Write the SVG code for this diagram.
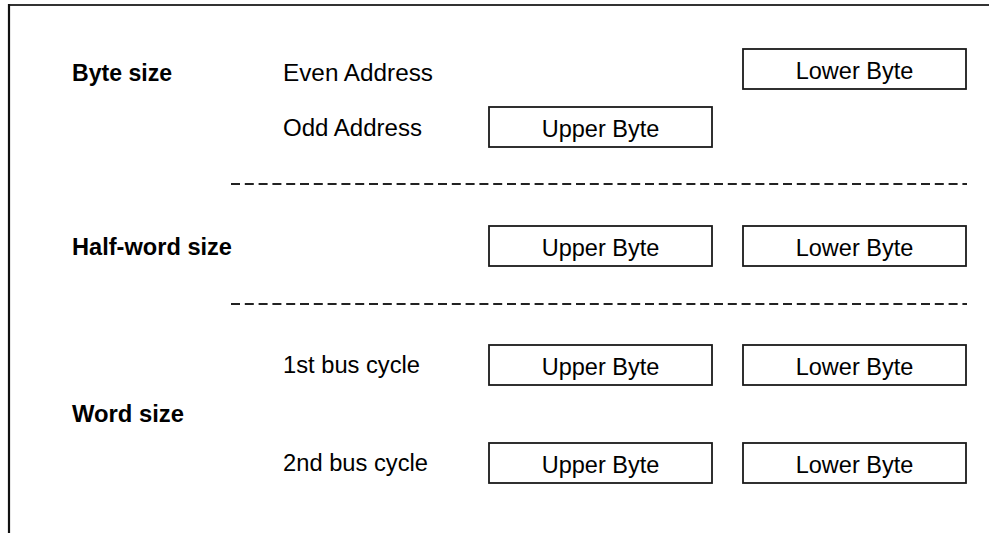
<svg xmlns="http://www.w3.org/2000/svg" width="989" height="533" viewBox="0 0 989 533">
<style>
.box{fill:#fff;stroke:#1a1a1a;stroke-width:1.8}
.t{font-family:"Liberation Sans",Arial,sans-serif;font-size:23.5px;fill:#000}
.b{font-weight:bold}
.c{text-anchor:middle}
.dash{stroke:#222;stroke-width:2;stroke-dasharray:9 4.8;fill:none}
</style>
<rect width="989" height="533" fill="#fff"/>
<g id="frame">
<line x1="9" y1="5" x2="989" y2="5" stroke="#333" stroke-width="2"/>
<line x1="9" y1="4" x2="9" y2="533" stroke="#111" stroke-width="2.2"/>
</g>
<g id="labels">
<text class="t b" x="72" y="81" textLength="100" lengthAdjust="spacingAndGlyphs">Byte size</text>
<text class="t" x="283" y="81" textLength="150" lengthAdjust="spacingAndGlyphs">Even Address</text>
<text class="t" x="283" y="136" textLength="139" lengthAdjust="spacingAndGlyphs">Odd Address</text>
<text class="t b" x="72" y="255" textLength="160" lengthAdjust="spacingAndGlyphs">Half-word size</text>
<text class="t" x="283" y="373" textLength="137" lengthAdjust="spacingAndGlyphs">1st bus cycle</text>
<text class="t b" x="72" y="422" textLength="112" lengthAdjust="spacingAndGlyphs">Word size</text>
<text class="t" x="283" y="471" textLength="145" lengthAdjust="spacingAndGlyphs">2nd bus cycle</text>
</g>
<g id="byte-lower"><rect class="box" x="743" y="49" width="223" height="40"/><text class="t c" x="854.5" y="78.5">Lower Byte</text></g>
<g id="byte-upper"><rect class="box" x="489" y="107" width="223" height="40"/><text class="t c" x="600.5" y="136.5">Upper Byte</text></g>
<g id="half-upper"><rect class="box" x="489" y="226" width="223" height="40"/><text class="t c" x="600.5" y="255.5">Upper Byte</text></g>
<g id="half-lower"><rect class="box" x="743" y="226" width="223" height="40"/><text class="t c" x="854.5" y="255.5">Lower Byte</text></g>
<g id="word1-upper"><rect class="box" x="489" y="345" width="223" height="40"/><text class="t c" x="600.5" y="374.5">Upper Byte</text></g>
<g id="word1-lower"><rect class="box" x="743" y="345" width="223" height="40"/><text class="t c" x="854.5" y="374.5">Lower Byte</text></g>
<g id="word2-upper"><rect class="box" x="489" y="443" width="223" height="40"/><text class="t c" x="600.5" y="472.5">Upper Byte</text></g>
<g id="word2-lower"><rect class="box" x="743" y="443" width="223" height="40"/><text class="t c" x="854.5" y="472.5">Lower Byte</text></g>
<g id="connectors">
<line class="dash" x1="231" y1="184" x2="967" y2="184"/>
<line class="dash" x1="231" y1="304" x2="967" y2="304"/>
</g>
</svg>
